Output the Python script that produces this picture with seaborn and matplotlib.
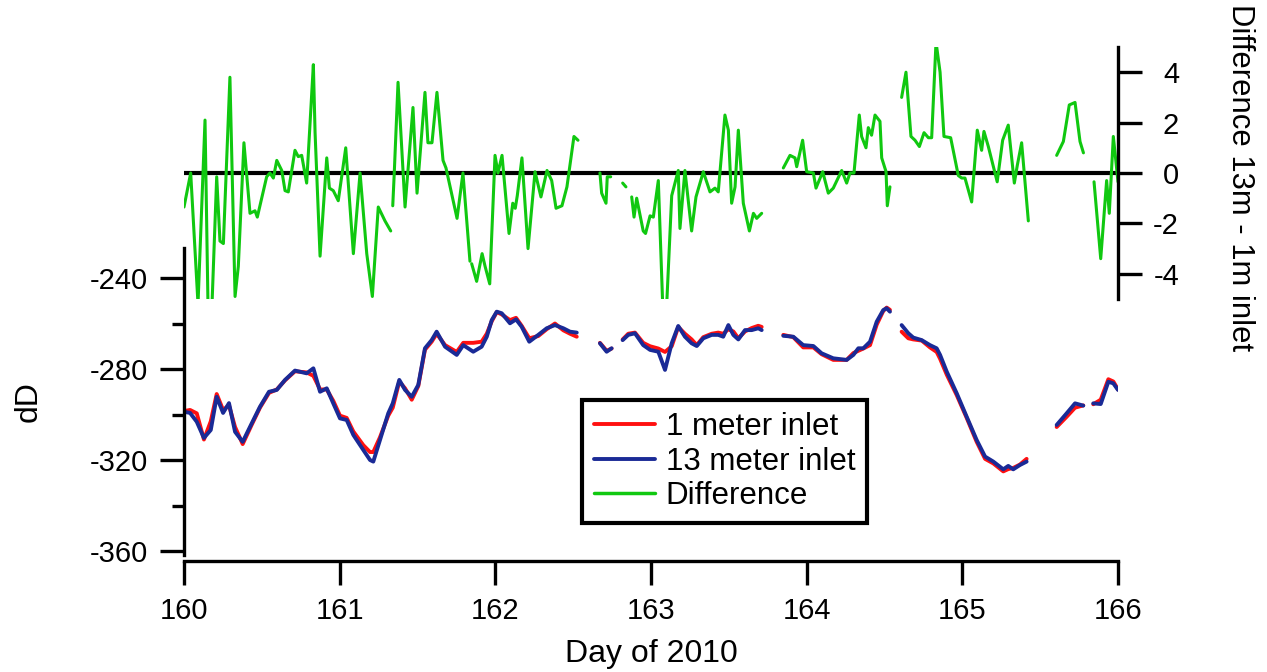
import numpy as np
import pandas as pd
import matplotlib
matplotlib.use("Agg")
import matplotlib.pyplot as plt
from matplotlib.lines import Line2D
import seaborn as sns

# day of 2010 for the dD series (None = gap in the record)
day_dD = [160.000, 160.039, 160.082, 160.128, 160.172, 160.210, 160.251, 160.289, 160.328, 160.377,
          160.435, 160.488, 160.546, 160.596, 160.649, 160.713, 160.788, 160.831, 160.874, 160.917,
          160.959, 161.002, 161.045, 161.088, 161.152, 161.195, 161.216, 161.259, 161.312, 161.341,
          161.383, 161.420, 161.463, 161.505, 161.548, 161.591, 161.623, 161.677, 161.752, 161.794,
          161.858, 161.912, 161.945, 161.977, 162.009, 162.041, 162.094, 162.133, 162.169, 162.218,
          162.276, 162.330, 162.383, 162.437, 162.480, 162.523, None,
          162.672, 162.715, 162.747, None,
          162.818, 162.854, 162.897, 162.950, 162.994, 163.047, 163.090, 163.133, 163.175, 163.218,
          163.261, 163.294, 163.336, 163.390, 163.432, 163.464, 163.497, 163.529, 163.561, 163.604,
          163.647, 163.689, 163.711, None,
          163.850, 163.914, 163.978, 164.043, 164.096, 164.171, 164.257, 164.300, 164.332, 164.364,
          164.407, 164.450, 164.492, 164.514, 164.535, None,
          164.610, 164.653, 164.685, 164.739, 164.792, 164.835, 164.857, 164.900, 164.964, 165.028,
          165.092, 165.146, 165.199, 165.263, 165.295, 165.327, 165.370, 165.413, None,
          165.606, 165.670, 165.724, 165.777, None,
          165.841, 165.889, 165.938, 165.970, 166.000]

dD_13m = [-298.8, -299.3, -303.2, -310.3, -306.8, -292.2, -299.3, -295.0, -307.6, -312.0,
          -303.9, -296.6, -290.0, -289.2, -284.8, -280.7, -281.9, -279.7, -290.0, -288.5,
          -295.1, -301.7, -302.4, -309.0, -315.6, -320.0, -320.7, -311.2, -299.5, -295.1,
          -284.8, -289.2, -292.2, -287.0, -270.9, -267.3, -263.6, -270.2, -273.8, -269.5,
          -272.4, -270.2, -265.8, -258.5, -254.8, -255.5, -259.9, -258.2, -261.4, -268.0,
          -265.0, -262.1, -260.7, -262.1, -263.6, -264.0, None,
          -268.7, -272.4, -270.9, None,
          -267.3, -265.0, -264.3, -269.5, -271.6, -272.4, -280.4, -268.7, -261.1, -265.8,
          -268.7, -269.9, -266.5, -265.0, -265.0, -265.8, -260.7, -265.0, -267.0, -262.9,
          -262.9, -262.1, -262.9, None,
          -265.4, -265.8, -269.5, -269.9, -273.1, -275.3, -276.0, -273.8, -270.9, -270.9,
          -268.0, -259.2, -254.1, -253.3, -254.8, None,
          -260.7, -264.3, -266.2, -267.3, -269.5, -270.9, -273.8, -281.2, -290.7, -301.0,
          -311.2, -318.5, -320.7, -324.1, -322.6, -324.1, -322.2, -320.7, None,
          -304.6, -299.5, -295.1, -296.1, None,
          -295.1, -295.4, -285.6, -286.3, -289.2]

dD_1m = [-298.5, -298.0, -299.5, -311.0, -303.0, -291.0, -298.0, -296.0, -305.5, -313.0,
         -304.5, -297.0, -290.5, -289.0, -285.0, -281.0, -281.5, -283.0, -289.0, -289.0,
         -294.0, -300.5, -301.5, -307.5, -313.5, -316.5, -316.5, -310.0, -300.5, -297.0,
         -285.5, -288.5, -293.5, -287.5, -271.5, -268.0, -264.5, -269.5, -272.5, -268.5,
         -268.5, -268.0, -264.5, -259.0, -255.0, -256.0, -258.5, -257.5, -261.0, -266.5,
         -265.5, -262.5, -260.0, -263.0, -264.5, -265.8, None,
         -268.5, -272.0, -271.0, None,
         -267.0, -264.5, -264.0, -268.5, -270.0, -271.0, -272.5, -270.0, -261.5, -264.5,
         -267.0, -269.5, -266.0, -264.5, -264.0, -264.5, -262.5, -263.5, -266.5, -263.5,
         -262.0, -261.0, -261.5, None,
         -265.0, -266.0, -270.5, -270.5, -273.5, -276.0, -276.0, -273.0, -272.0, -271.0,
         -269.5, -260.5, -254.5, -253.0, -254.0, None,
         -263.6, -266.5, -267.0, -267.5, -270.5, -272.5, -275.5, -282.5, -291.5, -301.5,
         -312.0, -319.5, -321.5, -325.0, -324.0, -323.5, -322.0, -319.5, None,
         -305.5, -301.0, -297.0, -296.0, None,
         -295.5, -293.5, -284.5, -285.5, -289.0]

# difference 13m - 1m (right axis)
day_diff = [160.000, 160.043, 160.090, 160.135, 160.154, 160.180, 160.210, 160.231, 160.253, 160.295,
            160.328, 160.349, 160.385, 160.424, 160.456, 160.471, 160.531, 160.552, 160.574, 160.596,
            160.628, 160.649, 160.670, 160.713, 160.734, 160.756, 160.788, 160.820, 160.831, 160.842,
            160.874, 160.917, 160.934, 160.959, 160.991, 161.039, 161.088, 161.131, 161.174, 161.210,
            161.248, 161.291, 161.328, None,
            161.341, 161.350, 161.375, 161.420, 161.471, 161.497, 161.548, 161.567, 161.593, 161.625,
            161.664, 161.683, 161.754, 161.792, 161.837, None,
            161.848, 161.880, 161.915, 161.934, 161.964, 161.998, 162.017, 162.043, 162.088, 162.112,
            162.128, 162.141, 162.171, 162.210, 162.255, 162.293, 162.332, 162.362, 162.390, 162.428,
            162.460, 162.505, 162.531, None,
            162.672, 162.683, 162.711, 162.719, 162.741, None,
            162.818, 162.839, None,
            162.876, 162.891, 162.908, 162.950, 162.965, 162.994, 163.015, 163.047, 163.075, 163.101,
            163.133, 163.175, 163.186, 163.218, 163.261, 163.289, 163.336, 163.379, 163.411, 163.432,
            163.475, 163.497, 163.518, 163.540, 163.561, 163.593, 163.632, 163.658, 163.679, 163.711, None,
            163.850, 163.893, 163.925, 163.936, 163.974, 164.000, 164.043, 164.060, 164.103, 164.139,
            164.171, 164.225, 164.257, 164.278, 164.304, 164.338, 164.353, 164.381, 164.396, 164.417,
            164.439, 164.471, 164.482, 164.510, 164.518, 164.535, None,
            164.610, 164.638, 164.670, 164.696, 164.724, 164.754, 164.782, 164.803, 164.831, 164.857,
            164.882, 164.925, 164.974, 164.996, 165.017, 165.060, 165.096, 165.124, 165.139, 165.167,
            165.224, 165.259, 165.295, 165.334, 165.353, 165.381, 165.424, None,
            165.606, 165.649, 165.687, 165.724, 165.756, 165.778, None,
            165.846, 165.889, 165.927, 165.944, 165.970, 166.000]

diff = [-1.35, 0.0, -5.2, 2.1, -5.2, -5.2, -0.15, -2.7, -2.8, 3.8,
        -4.9, -3.7, 1.2, -1.6, -1.5, -1.75, -0.15, 0.0, -0.2, 0.5,
        0.1, -0.7, -0.75, 0.9, 0.65, 0.7, -0.4, 3.1, 4.3, 1.6,
        -3.3, 0.6, -0.6, -0.7, -1.1, 1.0, -3.2, 0.0, -3.2, -4.9,
        -1.35, -1.9, -2.3, None,
        -1.3, -0.1, 3.6, -1.35, 2.6, -0.8, 3.2, 1.2, 1.2, 3.2,
        0.5, 0.2, -1.8, 0.0, -3.5, None,
        -3.6, -4.3, -3.2, -3.7, -4.4, 0.7, 0.0, 0.7, -2.4, -1.2,
        -1.4, -0.9, 0.6, -3.0, 0.05, -0.95, 0.1, -0.3, -1.4, -1.3,
        -0.55, 1.45, 1.3, None,
        0.0, -0.8, -1.2, -0.15, -0.15, None,
        -0.4, -0.55, None,
        -0.95, -1.75, -1.0, -2.3, -2.4, -1.7, -1.75, -0.3, -5.2, -5.2,
        -0.9, 0.1, -2.2, 0.1, -2.3, -0.95, 0.05, -0.75, -0.6, -0.75,
        2.3, 1.7, -1.2, -0.55, 1.7, -1.2, -2.3, -1.6, -1.8, -1.6, None,
        0.2, 0.7, 0.6, 0.25, 1.3, 0.05, 0.0, -0.6, 0.05, -0.8,
        -0.6, 0.1, -0.4, 0.0, 0.0, 2.3, 1.45, 1.0, 1.8, 1.5,
        2.3, 2.05, 0.6, 0.05, -1.3, -0.55, None,
        3.0, 4.0, 1.45, 1.3, 1.05, 1.6, 1.4, 1.4, 5.2, 4.0,
        1.45, 1.4, -0.1, -0.2, -0.2, -1.15, 1.7, 0.9, 1.65, 1.05,
        -0.35, 1.3, 1.9, -0.4, 0.3, 1.2, -1.9, None,
        0.7, 1.25, 2.7, 2.8, 1.25, 0.8, None,
        -0.35, -3.4, -0.3, -1.6, 1.45, -0.35]

series_labels = ["1 meter inlet", "13 meter inlet", "Difference"]
colors = {"1 meter inlet": "#ff1010", "13 meter inlet": "#1a2a96", "Difference": "#10c810"}


def to_frame(x, y, name):
    df = pd.DataFrame({"day": x, "value": y}, dtype=float)
    df["seg"] = df["value"].isna().cumsum()
    df["series"] = name
    return df.dropna()


dd_df = pd.concat([to_frame(day_dD, dD_1m, series_labels[0]),
                   to_frame(day_dD, dD_13m, series_labels[1])], ignore_index=True)
dd_df["unit"] = dd_df["series"] + dd_df["seg"].astype(str)
diff_df = to_frame(day_diff, diff, series_labels[2])

sns.set_theme(style="ticks")
plt.rcParams["font.family"] = ["Liberation Sans", "DejaVu Sans"]
plt.rcParams["axes.unicode_minus"] = False
FS = 21
FS_LAB = 23
FS_LEG = 22.5
LW = 2.4
LW_DD = 2.8
LW_DIFF = 2.2

W, H = 1267, 672
fig = plt.figure(figsize=(W / 100, H / 100), dpi=100)
ax1 = fig.add_axes([184 / W, 1 - 555 / H, (1118 - 184) / W, (555 - 248) / H])
ax2 = fig.add_axes([184 / W, 1 - 299 / H, (1118 - 184) / W, (299 - 47) / H])
ax2.patch.set_visible(False)

sns.lineplot(data=dd_df, x="day", y="value", hue="series", units="unit", estimator=None,
             palette=colors, linewidth=LW_DD, sort=False, legend=False, ax=ax1)
ax2.axhline(0, color="black", lw=3.0, zorder=1)
sns.lineplot(data=diff_df, x="day", y="value", units="seg", estimator=None,
             color=colors["Difference"], linewidth=LW_DIFF, sort=False, legend=False, ax=ax2)

# left / bottom axes
ax1.set_xlim(160, 166)
ax1.set_ylim(-240 - (555 - 278) / 2.275, -240 + (278 - 248) / 2.275)
ax1.set_xticks(range(160, 167))
ax1.set_yticks([-360, -320, -280, -240])
ax1.set_yticks([-340, -300, -260], minor=True)
for s in ["top", "right"]:
    ax1.spines[s].set_visible(False)
for s in ["left", "bottom"]:
    ax1.spines[s].set_linewidth(LW)
    ax1.spines[s].set_color("black")
ax1.spines["bottom"].set_position(("outward", 4))
ax1.tick_params(axis="both", which="major", length=17, width=LW, color="black",
                labelsize=FS, labelcolor="black", direction="out")
ax1.tick_params(axis="x", pad=9)
ax1.tick_params(axis="y", pad=9)
ax1.tick_params(axis="y", which="minor", length=9, width=LW, color="black", left=True)
ax1.set_xlabel("Day of 2010", fontsize=FS_LAB, color="black", labelpad=10)
ax1.set_ylabel("dD", fontsize=FS_LAB, color="black")
ax1.yaxis.set_label_coords(-0.15, 0.5)

# right axis for the difference
ax2.set_xlim(160, 166)
ax2.set_ylim(-5, 5)
ax2.set_yticks([-4, -2, 0, 2, 4])
for s in ["top", "left", "bottom"]:
    ax2.spines[s].set_visible(False)
ax2.spines["right"].set_visible(True)
ax2.spines["right"].set_linewidth(LW)
ax2.spines["right"].set_color("black")
ax2.tick_params(axis="x", bottom=False, labelbottom=False)
ax2.tick_params(axis="y", left=False, labelleft=False, right=True, labelright=True,
                length=17, width=LW, color="black", labelsize=FS, labelcolor="black", pad=27)
for lbl in ax2.get_yticklabels():
    lbl.set_horizontalalignment("right")
ax2.set_xlabel("")
ax2.set_ylabel("")
fig.text(1240 / W, 1 - 178 / H, "Difference 13m - 1m inlet", rotation=270,
         ha="center", va="center", fontsize=22.3, color="black")

handles = [Line2D([], [], color=colors[k], lw=LW_DD if k != "Difference" else LW_DIFF + 0.3)
           for k in series_labels]
leg = ax1.legend(handles, series_labels, loc="upper left", bbox_to_anchor=(582 / W, 1 - 400 / H),
                 bbox_transform=fig.transFigure, frameon=True, fancybox=False, framealpha=1,
                 edgecolor="black", fontsize=FS_LEG, handlelength=1.95, handletextpad=0.35,
                 borderpad=0.38, labelspacing=0.15, borderaxespad=0)
leg.get_frame().set_linewidth(LW + 0.6)
for t in leg.get_texts():
    t.set_color("black")

fig.savefig("out.png", dpi=100)
